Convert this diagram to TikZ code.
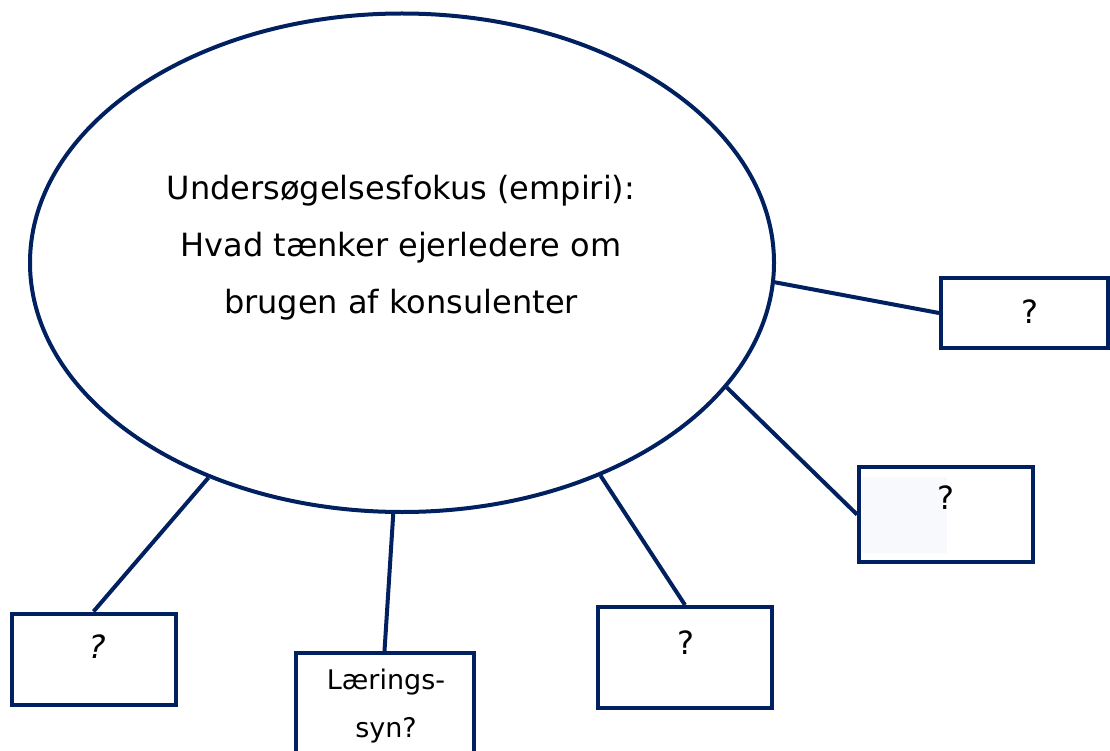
\documentclass[tikz,border=0pt]{standalone}
\usepackage{fontspec}
\setmainfont{DejaVu Sans}
\usetikzlibrary{shapes.geometric}
\definecolor{navy}{RGB}{0,32,96}
\definecolor{faint}{RGB}{247,249,252}
\begin{document}
\begin{tikzpicture}[x=1pt,y=-1pt,
  outline/.style={draw=navy,line width=4pt},
  focus/.style={outline,ellipse,inner sep=0pt,minimum width=744pt,minimum height=498.5pt},
  qbox/.style={outline,rectangle,inner sep=0pt,fill=white},
  link/.style={draw=navy,line width=4pt},
  qmark/.style={inner sep=0pt,font=\fontsize{32}{32}\selectfont}]
\useasboundingbox (0,0) rectangle (1110,751);
\clip (0,0) rectangle (1110,751);

% central focus ellipse and its text
\node[focus] (e) at (402,262.75) {};
\node[align=center,inner sep=0pt,font=\fontsize{32}{57}\selectfont] (t) at (401,248)
  {Undersøgelsesfokus (empiri):\\Hvad tænker ejerledere om\\brugen af konsulenter};

% question boxes
\node[qbox,minimum width=167pt,minimum height=70pt]  (b1) at (1024.5,313) {};
\node[qbox,minimum width=174pt,minimum height=95pt]  (b2) at (946,514.5) {};
\node[qbox,minimum width=174pt,minimum height=101pt] (b3) at (685,657.5) {};
\node[qbox,minimum width=178pt,minimum height=127pt] (b4) at (384.5,716.5) {};
\node[qbox,minimum width=164pt,minimum height=91pt]  (b5) at (93.5,659) {};
\fill[faint] (862,477) rectangle (947,553);

% connectors from the ellipse to the boxes
\draw[link] (e.-3.14) -- (b1.west);
\draw[link] (e.-21.8) -- (b2.west);
\draw[link] (e.-47.2) -- (b3.north);
\draw[link] (e.-92.2) -- (b4.north);
\draw[link] (e.-132.2) -- (b5.north);

% box labels
\node[qmark] (q1) at (1030,311.5) {?};
\node[qmark] (q2) at (946,498) {?};
\node[qmark] (q3) at (686,643) {?};
\node[qmark,font=\fontsize{32}{32}\selectfont\itshape] (q5) at (97,646.5) {?};
\node[align=center,inner sep=0pt,font=\fontsize{27}{48}\selectfont] (l4) at (386,706.5)
  {Lærings-\\syn?};
\end{tikzpicture}
\end{document}
